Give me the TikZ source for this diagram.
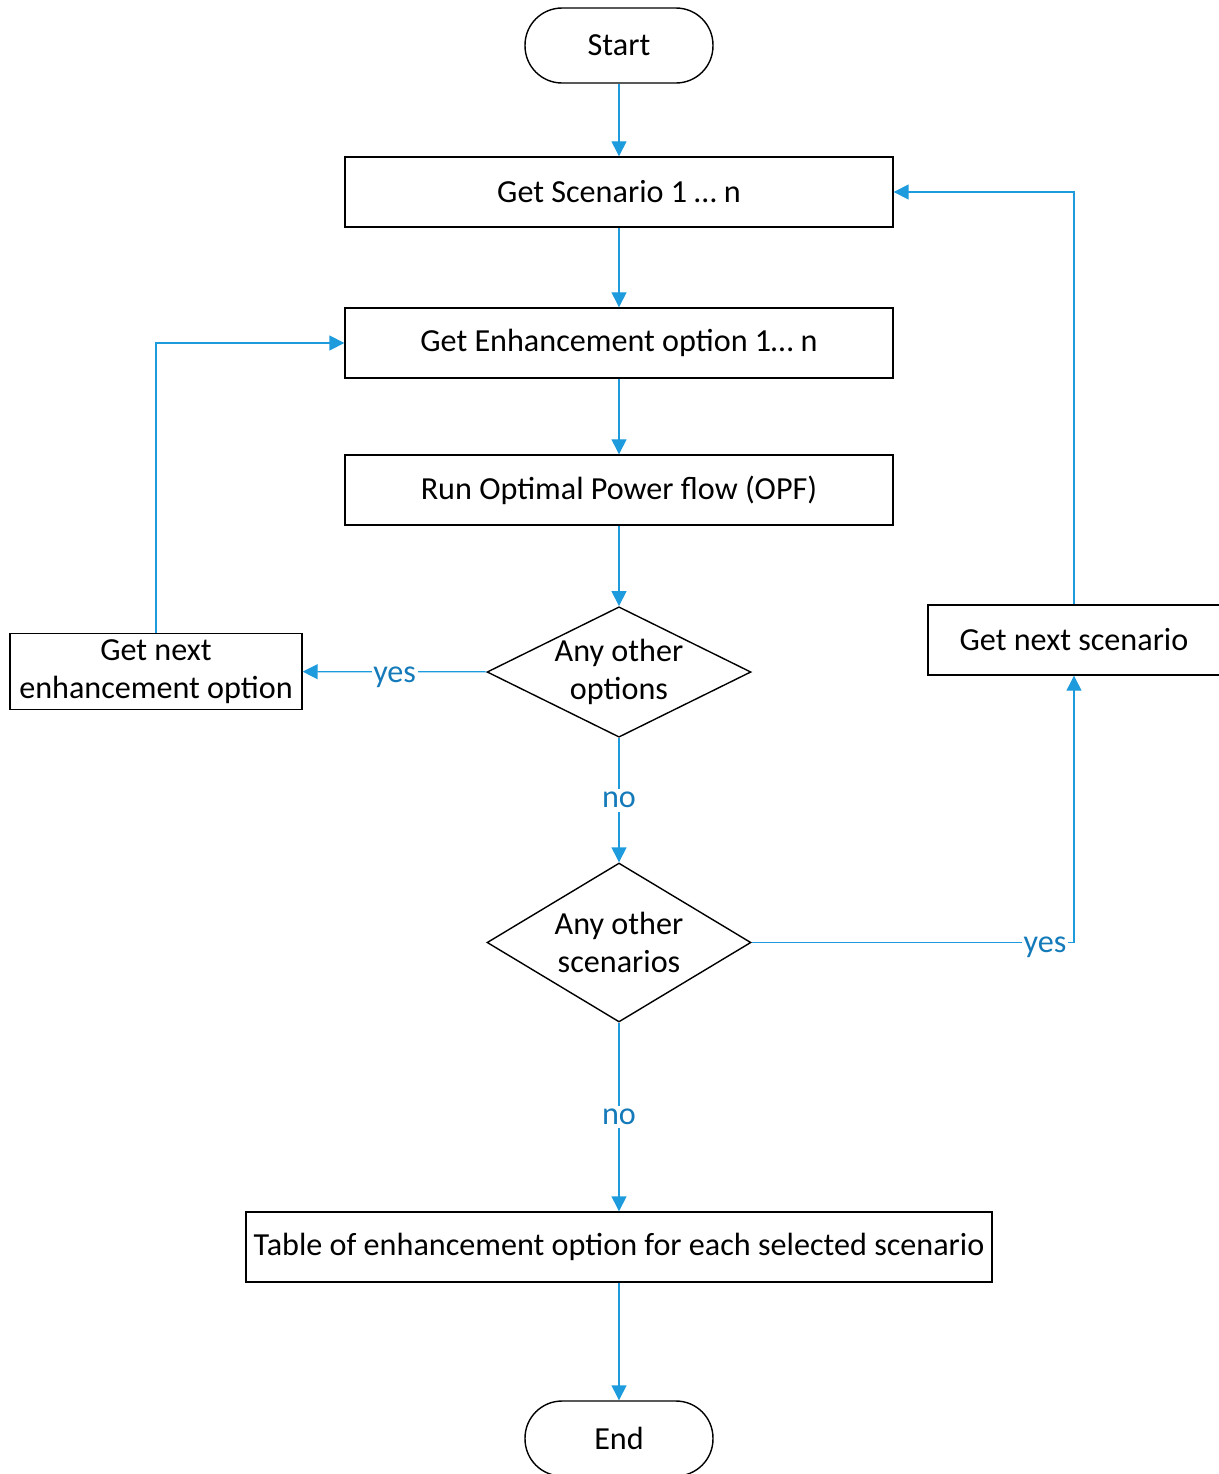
\documentclass[tikz,border=0pt]{standalone}
\usepackage{fontspec}
\setmainfont{Carlito}
\usetikzlibrary{arrows.meta,shapes.geometric}

\definecolor{flowblue}{RGB}{30,155,220}
\definecolor{labelblue}{RGB}{20,122,185}

\tikzset{
  process/.style={draw, line width=0.8pt, minimum width=10.96cm, minimum height=1.4cm, align=center},
  terminal/.style={draw, line width=0.8pt, rounded corners=0.74cm, minimum width=3.76cm, minimum height=1.5cm},
  decision/.style={draw, line width=0.8pt, diamond, aspect=2, inner sep=0pt, minimum width=5.28cm, minimum height=2.6cm, align=center},
  flow/.style={draw=flowblue, line width=0.7pt, -{Triangle[length=8.5pt,width=8.5pt]}},
  lbl/.style={fill=white, text=labelblue, inner sep=2pt},
  hlbl/.style={lbl, inner sep=1pt, yshift=-3pt}
}

\begin{document}
\begin{tikzpicture}[x=0.02cm, y=-0.02cm, font=\fontsize{18.3}{22}\selectfont]
  \useasboundingbox (0,0) rectangle (1218,1474);

  % main column
  \node[terminal] (start) at (619,45.5) {Start};
  \node[process] (scen) at (619,192) {Get Scenario 1 … n};
  \node[process] (enh) at (619,343) {Get Enhancement option 1… n};
  \node[process] (opf) at (619,490) {Run Optimal Power flow (OPF)};
  \node[decision] (optq) at (619,672) {Any other\\options};
  \node[decision, aspect=1.66, minimum height=3.18cm] (scenq) at (619,942.5) {Any other\\scenarios};
  \node[process, minimum width=14.92cm] (table) at (619,1247) {Table of enhancement option for each selected scenario};
  \node[terminal] (end) at (619,1438.5) {End};

  % side boxes
  \node[process, minimum width=5.84cm] (nextenh) at (156,671.5) {Get next\\enhancement option};
  \node[process, minimum width=5.84cm] (nextscen) at (1074,640) {Get next scenario};

  \draw[flow] (start) -- (scen);
  \draw[flow] (scen) -- (enh);
  \draw[flow] (enh) -- (opf);
  \draw[flow] (opf) -- (optq);
  \draw[flow] (optq) -- (nextenh) node[hlbl, pos=0.5] {yes};
  \draw[flow] (optq) -- node[lbl] {no} (scenq);
  \draw[flow] (scenq) -- node[lbl] {no} (table);
  \draw[flow] (table) -- (end);
  \draw[flow] (nextenh.north) |- (enh.west);
  \draw[flow] (nextscen.north) |- (scen.east);
  \draw[flow] (scenq.east) -| (nextscen.south) node[hlbl, pos=0.455] {yes};
\end{tikzpicture}
\end{document}
